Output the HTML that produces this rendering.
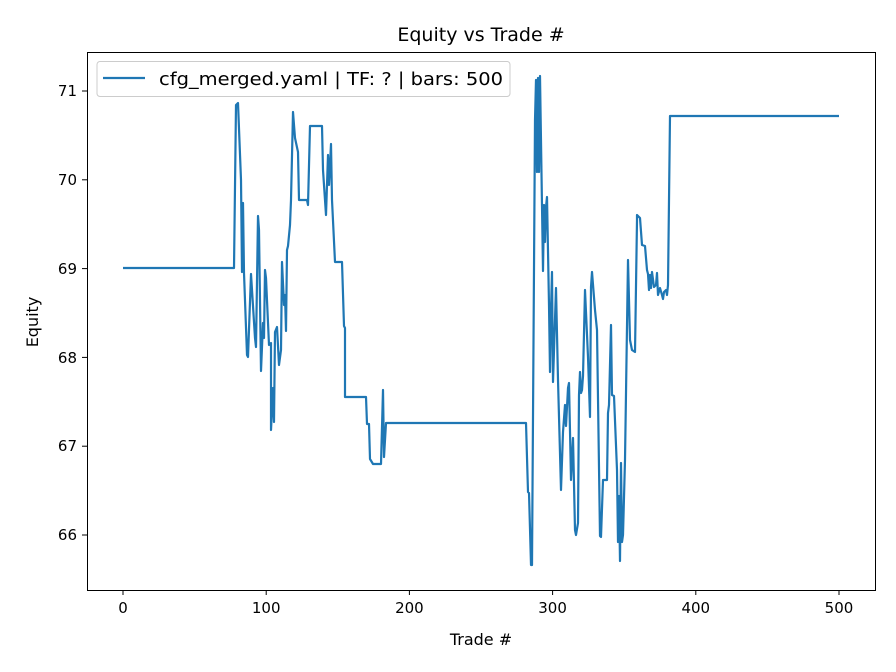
<!DOCTYPE html>
<html><head><meta charset="utf-8"><style>body{margin:0;background:#fff}svg{display:block}text{font-family:"DejaVu Sans","Liberation Sans",sans-serif;fill:#000}</style></head><body>
<svg width="896" height="672" viewBox="0 0 896 672" xmlns="http://www.w3.org/2000/svg">
<rect width="896" height="672" fill="#fff"/>
<text x="481" y="41" font-size="19" text-anchor="middle">Equity vs Trade #</text>
<polyline fill="none" stroke="#1f77b4" stroke-width="2.2" stroke-linejoin="round" points="123,268 234,268 236,105 238,103 241,180 242,272 243,203 244,273 247,355 248,357 251,274 255,338 256,347 258,216 259,230 261,371 263,323 264,338 265,270 266,278 269,345 271,343 271,430 273,388 274,422 275,332 277,327 279,365 281,350 282,262 284,305 285,295 286,331 287,250 288,246 290,225 291,200 293,112 295,138 298,152 299,200 307,200 308,205 310,126 322,126 323,170 326,215 328,155 329,185 331,144 332,200 335,262 342,262 344,326 345,328 345,397 366,397 367,424 369,424 370,459 373,464 381,464 383,390 384,457 386,423 526,423 528,492 529,493 531,565 532,565 535,120 536,80 537,172 538,78 539,172 540,76 543,271 544,205 545,242 546,207 547,197 549,305 550,372 551,310 552,272 553,382 556,288 558,380 561,490 563,432 565,405 566,426 568,388 569,383 571,480 573,438 575,530 576,535 578,523 579,395 580,372 581,393 582,390 583,376 585,290 588,357 590,417 591,287 592,272 595,310 597,330 600,536 601,537 603,480 607,480 608,413 609,405 611,325 612,395 614,396 617,470 618,542 619,496 620,561 621,463 622,542 623,535 625,460 628,260 630,340 632,350 635,352 637,220 637,215 640,218 642,245 645,246 647,270 648,274 649,290 650,275 651,288 652,272 654,287 656,285 657,273 658,295 660,288 662,295 663,299 664,292 666,290 667,295 668,285 670,116 839,116"/>
<rect x="87.5" y="52.5" width="788" height="538" fill="none" stroke="#000" stroke-width="1"/>
<g stroke="#000" stroke-width="1">
<line x1="123" y1="590" x2="123" y2="595"/><line x1="266.2" y1="590" x2="266.2" y2="595"/><line x1="409.4" y1="590" x2="409.4" y2="595"/><line x1="552.6" y1="590" x2="552.6" y2="595"/><line x1="695.8" y1="590" x2="695.8" y2="595"/><line x1="839" y1="590" x2="839" y2="595"/>
<line x1="82" y1="91" x2="87" y2="91"/><line x1="82" y1="179.8" x2="87" y2="179.8"/><line x1="82" y1="268.6" x2="87" y2="268.6"/><line x1="82" y1="357.4" x2="87" y2="357.4"/><line x1="82" y1="446.2" x2="87" y2="446.2"/><line x1="82" y1="535" x2="87" y2="535"/>
</g>
<g font-size="15" text-anchor="middle">
<text x="123" y="613">0</text><text x="266.2" y="613">100</text><text x="409.4" y="613">200</text><text x="552.6" y="613">300</text><text x="695.8" y="613">400</text><text x="839" y="613">500</text>
</g>
<g font-size="15" text-anchor="end">
<text x="77" y="96">71</text><text x="77" y="185">70</text><text x="77" y="274">69</text><text x="77" y="363">68</text><text x="77" y="451">67</text><text x="77" y="540">66</text>
</g>
<text x="481" y="645" font-size="16" text-anchor="middle">Trade #</text>
<text x="38" y="322" font-size="16" text-anchor="middle" transform="rotate(-90 38 322)">Equity</text>
<rect x="97" y="61.5" width="413" height="35" rx="3" fill="#fff" fill-opacity="0.8" stroke="#ccc"/>
<line x1="103" y1="78" x2="145" y2="78" stroke="#1f77b4" stroke-width="2.2"/>
<text x="159" y="85" font-size="18" textLength="344" lengthAdjust="spacingAndGlyphs">cfg_merged.yaml | TF: ? | bars: 500</text>
</svg>
</body></html>
